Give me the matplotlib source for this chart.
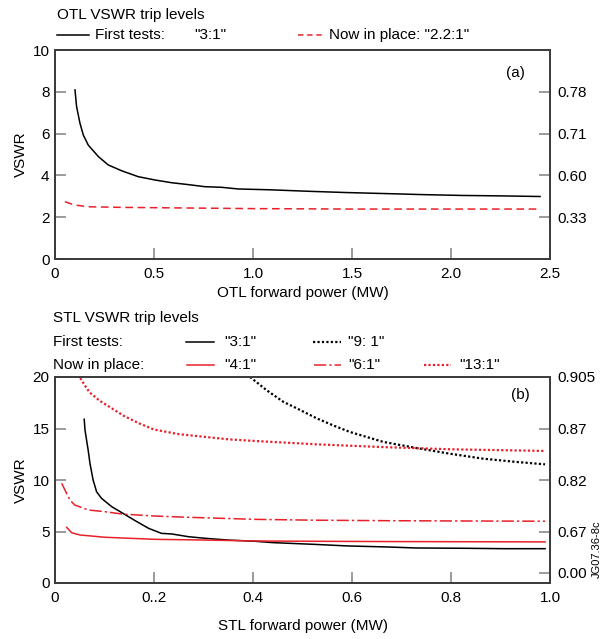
import matplotlib
matplotlib.use("Agg")
import matplotlib.pyplot as plt
from matplotlib.lines import Line2D

plt.rcParams['font.family'] = ['Liberation Sans', 'DejaVu Sans']
plt.rcParams['font.size'] = 11

RED = '#e8202a'
SPINE = '#3c3c3c'
TICK = '#808080'

# OTL (a)
otl_first_x = [0.101, 0.109, 0.126, 0.143, 0.168, 0.219, 0.269, 0.337, 0.42, 0.505, 0.589, 0.673,
               0.757, 0.842, 0.926, 1.01, 1.09, 1.28, 1.47, 1.67, 1.86, 2.06, 2.25, 2.45]
otl_first_y = [8.09, 7.29, 6.5, 5.93, 5.45, 4.9, 4.5, 4.22, 3.94, 3.78, 3.65, 3.56,
               3.46, 3.43, 3.35, 3.33, 3.31, 3.24, 3.18, 3.13, 3.08, 3.04, 3.02, 2.99]
otl_now_x = [0.05, 0.10, 0.168, 0.337, 0.67, 1.01, 1.5, 2.0, 2.45]
otl_now_y = [2.74, 2.58, 2.50, 2.47, 2.44, 2.41, 2.39, 2.39, 2.39]

otl_xticks = [0, 0.5, 1.0, 1.5, 2.0, 2.5]
otl_xlabels = ['0', '0.5', '1.0', '1.5', '2.0', '2.5']
otl_yticks = [0, 2, 4, 6, 8, 10]
otl_rticks = [2, 4, 6, 8]
otl_rlabels = ['0.33', '0.60', '0.71', '0.78']

# STL (b)
stl_31_x = [0.059, 0.0606, 0.067, 0.0707, 0.077, 0.084, 0.094, 0.1145, 0.135, 0.162, 0.189, 0.215, 0.236,
            0.269, 0.303, 0.35, 0.404, 0.44, 0.52, 0.59, 0.67, 0.73, 0.83, 0.91, 0.99]
stl_31_y = [15.9, 14.85, 12.9, 11.6, 10.0, 8.86, 8.22, 7.41, 6.83, 6.05, 5.31, 4.82, 4.76,
            4.5, 4.34, 4.17, 4.05, 3.92, 3.76, 3.6, 3.5, 3.4, 3.37, 3.33, 3.33]
stl_91_x = [0.394, 0.428, 0.461, 0.495, 0.529, 0.562, 0.596, 0.663, 0.731, 0.798, 0.865, 0.933, 0.99]
stl_91_y = [20.0, 18.7, 17.6, 16.8, 15.98, 15.3, 14.66, 13.7, 13.1, 12.55, 12.07, 11.75, 11.52]
stl_131_x = [0.051, 0.06, 0.07, 0.09, 0.11, 0.14, 0.17, 0.20, 0.25, 0.30, 0.35, 0.40, 0.53, 0.66, 0.80, 0.99]
stl_131_y = [19.9, 19.2, 18.5, 17.7, 17.1, 16.2, 15.5, 14.9, 14.45, 14.2, 13.95, 13.8, 13.46, 13.2, 12.98, 12.82]
stl_61_x = [0.0135, 0.030, 0.040, 0.067, 0.101, 0.135, 0.202, 0.269, 0.337, 0.404, 0.52, 0.67, 0.83, 0.99]
stl_61_y = [9.68, 8.06, 7.57, 7.09, 6.92, 6.7, 6.5, 6.38, 6.28, 6.18, 6.1, 6.05, 6.02, 6.0]
stl_41_x = [0.0236, 0.0337, 0.0505, 0.101, 0.202, 0.303, 0.404, 0.52, 0.70, 0.99]
stl_41_y = [5.4, 4.88, 4.66, 4.44, 4.24, 4.17, 4.08, 4.05, 4.02, 3.99]

stl_xticks = [0, 0.2, 0.4, 0.6, 0.8, 1.0]
stl_xlabels = ['0', '0..2', '0.4', '0.6', '0.8', '1.0']
stl_yticks = [0, 5, 10, 15, 20]
stl_rticks = [1, 5, 10, 15, 20]
stl_rlabels = ['0.00', '0.67', '0.82', '0.87', '0.905']

W, H = 604, 639
fig = plt.figure(figsize=(W / 100, H / 100), dpi=100)


def px(x, y):
    return x / W, 1 - y / H


def style(ax, twin):
    for a in (ax, twin):
        for s in a.spines.values():
            s.set_color(SPINE)
            s.set_linewidth(1.3)
    ax.tick_params(direction='in', length=8, width=1.1, color=TICK, pad=4,
                   labelsize=11, top=False, right=False)
    ax.tick_params(axis='x', pad=6)
    twin.tick_params(direction='in', length=8, width=1.1, color=TICK, pad=5,
                     labelsize=11)


def panel(top, bottom):
    l, b = px(55, bottom)
    _, t = px(55, top)
    return fig.add_axes([l, b, 495 / W, t - b])


# ---- (a)
ax1 = panel(50, 259)
ax1.plot(otl_first_x, otl_first_y, color='black', lw=1.1)
ax1.plot(otl_now_x, otl_now_y, color=RED, lw=1.1, ls=(0, (5, 3)))
ax1.set_xlim(0, 2.5)
ax1.set_ylim(0, 10)
ax1.set_xticks(otl_xticks, otl_xlabels)
ax1.set_yticks(otl_yticks)
ax1.set_ylabel('VSWR', labelpad=3)
ax1.set_xlabel('OTL forward power (MW)', labelpad=3)
tw1 = ax1.twinx()
tw1.set_ylim(0, 10)
tw1.set_yticks(otl_rticks, otl_rlabels)
style(ax1, tw1)
ax1.text(0.93, 0.89, '(a)', transform=ax1.transAxes, ha='center', va='center')

# ---- (b)
ax2 = panel(377, 583)
ax2.plot(stl_31_x, stl_31_y, color='black', lw=1.1)
ax2.plot(stl_91_x, stl_91_y, color='black', lw=1.6, ls=(0, (1, 1)))
ax2.plot(stl_131_x, stl_131_y, color=RED, lw=1.6, ls=(0, (1, 1)))
ax2.plot(stl_61_x, stl_61_y, color=RED, lw=1.1, ls=(0, (8, 2, 1.5, 2)))
ax2.plot(stl_41_x, stl_41_y, color=RED, lw=1.1)
ax2.set_xlim(0, 1.0)
ax2.set_ylim(0, 20)
ax2.set_xticks(stl_xticks, stl_xlabels)
ax2.set_yticks(stl_yticks)
ax2.set_ylabel('VSWR', labelpad=3)
ax2.set_xlabel('STL forward power (MW)', labelpad=10)
tw2 = ax2.twinx()
tw2.set_ylim(0, 20)
tw2.set_yticks(stl_rticks, stl_rlabels)
style(ax2, tw2)
ax2.text(0.94, 0.913, '(b)', transform=ax2.transAxes, ha='center', va='center')

# ---- headers and legends
def key(x0, x1, y, **kw):
    a, yy = px(x0, y)
    b, _ = px(x1, y)
    fig.add_artist(Line2D([a, b], [yy, yy], transform=fig.transFigure, **kw))


def label(x, y, s, **kw):
    fx, fy = px(x, y)
    fig.text(fx, fy, s, va='center', ha='left', **kw)


label(57, 15, 'OTL VSWR trip levels')
key(57, 89, 35, color='black', lw=1.1)
label(95, 35, 'First tests:')
label(194, 35, '"3:1"')
key(298, 324, 35, color=RED, lw=1.1, ls=(0, (3.5, 2.5)))
label(329, 35, 'Now in place: "2.2:1"')

label(53, 318, 'STL VSWR trip levels')
label(53, 342, 'First tests:')
key(186, 214, 342, color='black', lw=1.1)
label(224, 342, '"3:1"')
key(313, 341, 342, color='black', lw=1.6, ls=(0, (1, 1)))
label(348, 342, '"9: 1"')
label(53, 365, 'Now in place:')
key(187, 214, 365, color=RED, lw=1.1)
label(224, 365, '"4:1"')
key(314, 341, 365, color=RED, lw=1.1, ls=(0, (8, 2, 1.5, 2)))
label(348, 365, '"6:1"')
key(424, 451, 365, color=RED, lw=1.6, ls=(0, (1, 1)))
label(459, 365, '"13:1"')

fx, fy = px(597, 549)
fig.text(fx, fy, 'JG07.36-8c', rotation=90, ha='center', va='center', fontsize=8)

fig.savefig('out.png', dpi=100)
